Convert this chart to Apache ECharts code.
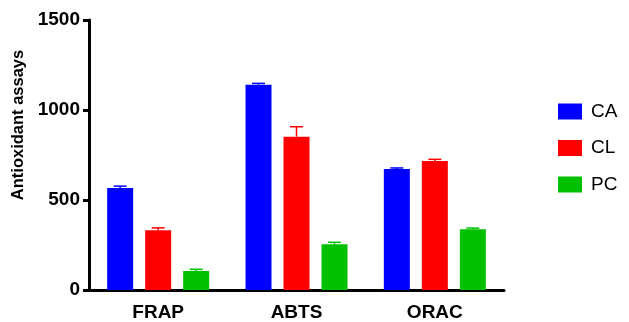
<!DOCTYPE html>
<html>
<head>
<meta charset="utf-8">
<script src="https://cdn.jsdelivr.net/npm/echarts@6/dist/echarts.min.js"></script>
<style>
  html, body { margin: 0; padding: 0; background: #fff; }
  #chart { width: 629px; height: 322px; }
</style>
</head>
<body>
<div id="chart"></div>
<script>
// Assays on the category axis, one bar per extract in each group
const categories = ['FRAP', 'ABTS', 'ORAC'];
const seriesNames = ['CA', 'CL', 'PC'];

// Mean values per extract (FRAP, ABTS, ORAC)
const caValues = [567, 1140, 672];
const clValues = [332, 852, 717];
const pcValues = [106, 254, 337];

// Upper error (SD) per extract
const caErrors = [10, 8, 6];
const clErrors = [13, 55, 9];
const pcErrors = [9, 11, 7];

// Value axis ticks
const yTicks = [0, 500, 1000, 1500];

const colors = ['#0000FF', '#FF0000', '#00C000'];
const FONT = "'Liberation Sans', Arial, sans-serif";

const BAR_W = 26;
const BAR_GAP = 12;
const groupOffsets = [-(BAR_W + BAR_GAP), 0, BAR_W + BAR_GAP];

const valueSets = [caValues, clValues, pcValues];
const errorSets = [caErrors, clErrors, pcErrors];

const barSeries = seriesNames.map((name, i) => ({
  name: name,
  type: 'bar',
  barWidth: BAR_W,
  barGap: (BAR_GAP / BAR_W * 100) + '%',
  itemStyle: { color: colors[i] },
  data: valueSets[i],
  z: 3
}));

const errorSeries = seriesNames.map((name, i) => ({
  name: name + ' SD',
  type: 'custom',
  z: 2,
  silent: true,
  data: valueSets[i].map((v, k) => [k, v, errorSets[i][k]]),
  renderItem: function (params, api) {
    const c = api.value(0);
    const v = api.value(1);
    const e = api.value(2);
    const base = api.coord([c, v]);
    const top = api.coord([c, v + e]);
    const x = base[0] + groupOffsets[i];
    const capHalf = 6.5;
    const style = { stroke: colors[i], lineWidth: 1.5 };
    return {
      type: 'group',
      children: [
        { type: 'line', shape: { x1: x, y1: base[1], x2: x, y2: top[1] }, style: style },
        { type: 'line', shape: { x1: x - capHalf, y1: top[1], x2: x + capHalf, y2: top[1] }, style: style }
      ]
    };
  }
}));

const chart = echarts.init(document.getElementById('chart'), null, { renderer: 'canvas' });
chart.setOption({
  animation: false,
  backgroundColor: '#ffffff',
  grid: { left: 89, top: 20, width: 415, height: 270, containLabel: false },
  legend: {
    data: seriesNames,
    orient: 'vertical',
    left: 558,
    top: 102,
    padding: 0,
    itemWidth: 24,
    itemHeight: 16,
    itemGap: 17.5,
    icon: 'rect',
    selectedMode: false,
    textStyle: { fontFamily: FONT, fontSize: 19, color: '#000', padding: [0, 0, 0, 4] }
  },
  xAxis: {
    type: 'category',
    data: categories,
    axisLine: { lineStyle: { color: '#000', width: 3 } },
    axisTick: { alignWithLabel: true, length: 7, lineStyle: { color: '#000', width: 3 } },
    axisLabel: { margin: 13, color: '#000', fontFamily: FONT, fontWeight: 'bold', fontSize: 19 }
  },
  yAxis: {
    type: 'value',
    min: yTicks[0],
    max: yTicks[yTicks.length - 1],
    interval: 500,
    name: 'Antioxidant assays',
    nameLocation: 'middle',
    nameGap: 59,
    nameTextStyle: { fontFamily: FONT, fontWeight: 'bold', fontSize: 16.5, color: '#000', padding: [0, 0, 0, 60] },
    splitLine: { show: false },
    axisLine: { show: true, lineStyle: { color: '#000', width: 3 } },
    axisTick: { show: true, length: 6, lineStyle: { color: '#000', width: 3 } },
    axisLabel: {
      margin: 9, color: '#000', fontFamily: FONT, fontWeight: 'bold', fontSize: 19,
      formatter: (v) => String(v)
    }
  },
  series: errorSeries.concat(barSeries)
});
</script>
</body>
</html>
